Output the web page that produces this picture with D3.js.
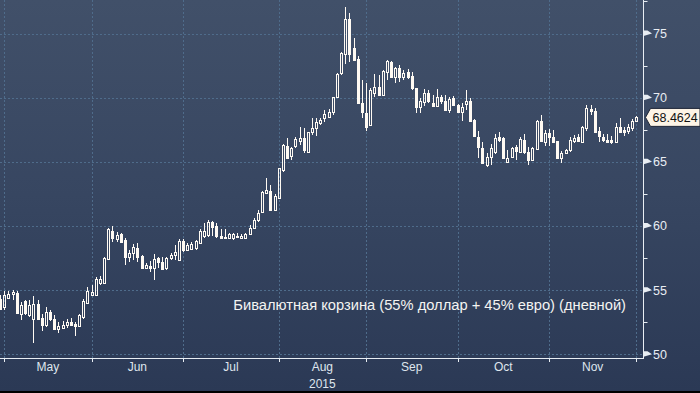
<!DOCTYPE html>
<html>
<head>
<meta charset="utf-8">
<script src="https://cdn.jsdelivr.net/npm/d3@7"></script>
<style>
  html, body { margin: 0; padding: 0; background: #000; }
  svg { display: block; }
</style>
</head>
<body>
<svg></svg>
<script>
(() => {
    const width = 700;
    const height = 393;

    // daily candles, 30 Apr 2015 .. 1 Dec 2015 (weekdays)
    const open = [
        54.33, 53.68, 54.41, 54.69, 54.80, 53.16, 54.15, 53.08, 52.77, 53.89,
        52.85, 52.31, 53.29, 52.77, 51.99, 52.07, 52.25, 52.51, 52.38, 52.20,
        52.90, 54.02, 54.59, 54.64, 55.55, 55.53, 57.40, 59.61, 58.99, 59.35,
        58.91, 57.61, 57.87, 58.31, 57.69, 56.75, 56.91, 56.75, 57.53, 57.17,
        56.70, 57.48, 57.74, 57.35, 58.83, 58.13, 58.21, 58.26, 58.65, 59.25,
        59.30, 60.34, 60.03, 59.25, 59.04, 59.04, 59.09, 59.25, 59.09, 59.09,
        59.35, 59.82, 60.47, 61.07, 62.55, 62.73, 61.25, 62.16, 64.36, 66.26,
        65.48, 66.26, 66.63, 66.89, 65.79, 67.30, 67.66, 68.00, 68.44, 68.52,
        68.91, 70.03, 71.95, 73.41, 76.11, 73.85, 72.99, 69.56, 68.78, 67.87,
        70.39, 70.81, 70.21, 72.03, 72.81, 71.64, 72.29, 71.59, 72.03, 71.69,
        70.73, 69.25, 69.69, 70.34, 69.61, 69.35, 70.08, 69.77, 69.04, 69.95,
        69.43, 68.91, 69.51, 69.74, 68.26, 66.96, 66.10, 64.75, 65.40, 65.79,
        66.96, 66.83, 64.96, 65.40, 66.18, 65.74, 66.70, 65.74, 65.14, 66.00,
        68.19, 66.57, 67.22, 66.96, 66.63, 65.33, 65.66, 65.92, 66.63, 66.96,
        66.52, 67.67, 69.12, 68.96, 67.41, 66.96, 66.70, 66.70, 66.57, 67.74,
        67.48, 67.41, 67.61, 68.19
    ];
    const high = [
        54.59, 54.90, 54.90, 54.98, 54.90, 54.07, 54.20, 54.20, 54.51, 54.20,
        53.16, 53.68, 53.47, 53.08, 52.51, 52.57, 52.77, 52.83, 52.51, 53.16,
        54.33, 55.24, 55.37, 56.02, 56.10, 57.61, 59.82, 60.03, 59.56, 59.43,
        59.04, 58.13, 58.57, 58.65, 57.72, 57.09, 57.27, 57.79, 57.61, 57.61,
        57.61, 57.87, 58.52, 58.99, 58.99, 58.65, 58.78, 58.91, 59.77, 60.21,
        60.47, 60.39, 60.21, 59.77, 59.77, 59.48, 59.43, 59.43, 59.35, 59.43,
        60.08, 60.65, 61.25, 62.73, 63.72, 63.20, 62.47, 64.55, 66.37, 66.89,
        66.18, 66.96, 67.74, 67.61, 67.35, 68.44, 68.39, 68.44, 69.04, 69.12,
        70.08, 71.95, 73.59, 77.10, 76.58, 74.63, 73.25, 71.38, 71.12, 70.73,
        71.85, 71.77, 72.16, 72.94, 72.85, 72.42, 72.55, 72.16, 72.21, 72.03,
        70.76, 69.95, 70.65, 70.60, 70.21, 70.65, 70.21, 70.21, 70.03, 70.13,
        69.51, 69.56, 70.60, 69.95, 68.30, 67.41, 66.52, 65.66, 66.37, 67.15,
        67.35, 66.96, 65.92, 66.18, 66.31, 66.96, 67.15, 66.18, 66.18, 68.26,
        68.65, 67.48, 67.56, 67.48, 66.66, 65.85, 66.00, 66.96, 67.09, 67.15,
        67.82, 69.43, 69.43, 69.17, 67.74, 67.15, 67.15, 67.04, 68.00, 68.39,
        67.74, 67.93, 68.34, 68.60
    ];
    const low = [
        53.42, 53.42, 54.28, 54.20, 53.11, 52.64, 53.03, 52.90, 50.90, 52.64,
        51.81, 52.12, 52.59, 51.95, 51.68, 51.99, 52.05, 52.18, 51.42, 52.12,
        52.77, 53.94, 54.51, 54.59, 55.42, 55.48, 57.35, 58.78, 58.73, 58.65,
        56.96, 57.22, 57.35, 57.22, 56.65, 56.65, 56.44, 55.79, 56.70, 56.62,
        56.57, 57.35, 57.35, 57.27, 58.00, 58.05, 58.13, 58.13, 58.57, 59.09,
        59.17, 59.25, 59.09, 58.99, 58.99, 58.99, 58.91, 59.04, 58.99, 59.00,
        59.30, 59.77, 60.34, 60.99, 62.47, 61.22, 61.17, 62.10, 64.18, 65.22,
        65.14, 66.05, 66.31, 65.66, 65.72, 67.09, 67.04, 67.87, 68.08, 68.39,
        68.65, 69.95, 71.77, 72.63, 72.81, 72.89, 69.51, 68.39, 67.41, 67.79,
        70.08, 70.13, 70.13, 71.38, 71.59, 71.12, 71.25, 71.38, 71.43, 70.60,
        68.78, 68.83, 69.35, 69.56, 69.32, 69.25, 69.51, 68.99, 68.83, 69.35,
        68.83, 68.21, 69.04, 68.13, 66.96, 65.33, 64.81, 64.62, 64.75, 65.59,
        66.57, 65.22, 64.88, 65.33, 65.14, 65.66, 65.59, 64.75, 65.07, 65.92,
        66.57, 66.26, 66.26, 66.44, 65.22, 64.88, 65.59, 65.74, 66.44, 66.57,
        66.44, 67.41, 68.65, 67.30, 66.57, 66.52, 66.44, 66.37, 66.52, 67.30,
        67.04, 67.15, 67.41, 68.13
    ];
    const close = [
        53.55, 54.59, 54.72, 54.85, 53.21, 53.86, 53.24, 53.86, 53.89, 52.72,
        52.25, 53.29, 52.72, 51.99, 52.20, 52.31, 52.51, 52.28, 52.18, 53.03,
        54.12, 54.90, 54.85, 55.89, 55.84, 57.48, 59.74, 59.04, 59.30, 58.73,
        57.61, 57.87, 58.39, 57.61, 56.70, 56.96, 56.75, 57.43, 57.17, 56.65,
        57.48, 57.74, 58.00, 58.83, 58.13, 58.52, 58.57, 58.83, 59.61, 59.61,
        60.34, 59.95, 59.25, 59.04, 59.17, 59.35, 59.35, 59.17, 59.25, 59.38,
        59.87, 60.47, 61.04, 62.62, 62.81, 61.25, 62.36, 64.49, 66.31, 65.27,
        66.05, 66.78, 66.89, 65.92, 67.30, 67.61, 68.08, 68.26, 68.70, 68.91,
        70.03, 71.85, 73.51, 76.11, 73.41, 72.94, 69.56, 68.91, 67.74, 70.60,
        70.81, 70.21, 72.08, 72.86, 71.64, 72.29, 71.59, 71.90, 71.59, 70.73,
        69.30, 69.77, 70.39, 69.77, 69.35, 70.03, 69.77, 69.04, 69.87, 69.43,
        68.91, 69.25, 69.77, 68.19, 67.04, 66.18, 64.88, 65.40, 66.10, 66.89,
        66.70, 65.27, 65.27, 66.10, 65.85, 66.78, 65.74, 65.14, 66.05, 68.19,
        66.63, 67.22, 66.96, 66.57, 65.27, 65.66, 65.92, 66.70, 66.89, 66.63,
        67.74, 69.23, 68.96, 67.35, 67.04, 66.70, 66.57, 66.52, 67.74, 67.35,
        67.35, 67.74, 68.19, 68.4624
    ];

    const yTicks = [50, 55, 60, 65, 70, 75];
    const yMinorTicks = [52.5, 57.5, 62.5, 67.5, 72.5, 77.5];
    const monthNames = ["May", "Jun", "Jul", "Aug", "Sep", "Oct", "Nov"];
    const yearLabel = "2015";
    const title = "Бивалютная корзина (55% доллар + 45% евро) (дневной)";
    const lastValue = "68.4624";

    // weekday calendar for the candles
    const dates = d3.timeDay.range(new Date(2015, 3, 30), new Date(2015, 11, 2))
        .filter(d => d.getDay() !== 0 && d.getDay() !== 6);
    const data = dates.map((d, i) => ({
        date: d, o: open[i], h: high[i], l: low[i], c: close[i]
    }));

    const svg = d3.select("svg")
        .attr("width", width)
        .attr("height", height);

    const defs = svg.append("defs");
    const grad = defs.append("linearGradient")
        .attr("id", "bg")
        .attr("x1", 0).attr("y1", 0).attr("x2", 0).attr("y2", 1);
    grad.append("stop").attr("offset", "0%").attr("stop-color", "#415069");
    grad.append("stop").attr("offset", "50%").attr("stop-color", "#374661");
    grad.append("stop").attr("offset", "100%").attr("stop-color", "#2b3955");

    svg.append("rect")
        .attr("width", width).attr("height", 391)
        .attr("fill", "url(#bg)");

    const axisX = 643.5;
    const axisY = 358.5;
    const font = "Liberation Sans, Arial, sans-serif";

    const x = d3.scaleLinear()
        .domain([0, data.length - 1])
        .range([0.14, 636.3]);

    const y = d3.scaleLinear()
        .domain([50, 75])
        .range([354.3, 33.5]);

    // first candle of each month
    const monthStarts = [];
    data.forEach((d, i) => {
        if (i > 0 && d.date.getMonth() !== data[i - 1].date.getMonth()) monthStarts.push(i);
    });

    const grid = svg.append("g")
        .attr("stroke", "#4f6c8b")
        .attr("stroke-dasharray", "2,2")
        .attr("stroke-width", 1);

    grid.selectAll(".hgrid")
        .data(yTicks)
        .enter()
        .append("line")
        .attr("x1", 0).attr("x2", axisX)
        .attr("y1", d => Math.round(y(d)) + 0.5)
        .attr("y2", d => Math.round(y(d)) + 0.5);

    grid.selectAll(".vgrid")
        .data(monthStarts)
        .enter()
        .append("line")
        .attr("y1", 0).attr("y2", axisY)
        .attr("x1", d => Math.round(x(d)) + 0.5)
        .attr("x2", d => Math.round(x(d)) + 0.5);

    // candles
    const candleColor = "#fffaf3";
    const candles = svg.append("g");
    data.forEach((d, i) => {
        const cx = Math.round(x(i));
        const up = d.c >= d.o;
        const top = Math.round(y(Math.max(d.o, d.c)));
        const bot = Math.round(y(Math.min(d.o, d.c)));
        const hy = Math.round(y(d.h));
        const ly = Math.round(y(d.l));
        if (hy < top) {
            candles.append("line")
                .attr("x1", cx + 0.5).attr("x2", cx + 0.5)
                .attr("y1", hy).attr("y2", top)
                .attr("stroke", candleColor);
        }
        if (ly > bot) {
            candles.append("line")
                .attr("x1", cx + 0.5).attr("x2", cx + 0.5)
                .attr("y1", bot).attr("y2", ly)
                .attr("stroke", candleColor);
        }
        if (up) {
            candles.append("rect")
                .attr("x", cx - 0.5).attr("width", 2)
                .attr("y", top + 0.5).attr("height", Math.max(bot - top, 1))
                .attr("fill", "none")
                .attr("stroke", candleColor);
        } else {
            candles.append("rect")
                .attr("x", cx - 1).attr("width", 3)
                .attr("y", top).attr("height", Math.max(bot - top + 1, 2))
                .attr("fill", candleColor);
        }
    });

    // axes
    const axisColor = "#e8edf3";
    svg.append("line")
        .attr("x1", 0).attr("x2", axisX + 0.5)
        .attr("y1", axisY).attr("y2", axisY)
        .attr("stroke", axisColor);
    svg.append("line")
        .attr("x1", axisX).attr("x2", axisX)
        .attr("y1", 0).attr("y2", axisY)
        .attr("stroke", axisColor);

    const bounds = monthStarts.concat([data.length - 1]);

    svg.append("g").selectAll("line")
        .data(bounds)
        .enter()
        .append("line")
        .attr("x1", d => Math.round(x(d)) + 0.5)
        .attr("x2", d => Math.round(x(d)) + 0.5)
        .attr("y1", axisY).attr("y2", axisY + 3.5)
        .attr("stroke", axisColor);

    svg.append("g").selectAll("text")
        .data(monthNames)
        .enter()
        .append("text")
        .attr("x", (d, i) => (x(bounds[i]) + x(bounds[i + 1])) / 2)
        .attr("y", 371)
        .attr("text-anchor", "middle")
        .attr("font-family", font)
        .attr("font-size", 12)
        .attr("fill", "#dfe6ee")
        .text(d => d);

    svg.append("text")
        .attr("x", (x(bounds[3]) + x(bounds[4])) / 2)
        .attr("y", 388)
        .attr("text-anchor", "middle")
        .attr("font-family", font)
        .attr("font-size", 12)
        .attr("fill", "#dfe6ee")
        .text(yearLabel);

    svg.append("g").selectAll("line")
        .data(yMinorTicks)
        .enter()
        .append("line")
        .attr("x1", axisX).attr("x2", axisX + 4)
        .attr("y1", d => Math.round(y(d)) + 0.5)
        .attr("y2", d => Math.round(y(d)) + 0.5)
        .attr("stroke", axisColor);

    const yLab = svg.append("g").selectAll("g")
        .data(yTicks)
        .enter()
        .append("g")
        .attr("transform", d => `translate(0,${y(d)})`);
    yLab.append("path")
        .attr("d", `M${axisX},-3 L${axisX + 4},-3 L${axisX + 8.5},0 L${axisX},2.5 Z`)
        .attr("fill", axisColor);
    yLab.append("text")
        .attr("x", 653)
        .attr("y", 4.5)
        .attr("font-family", font)
        .attr("font-size", 12.5)
        .attr("fill", "#e8edf3")
        .text(d => d);

    // last price tag
    const ty = y(close[close.length - 1]);
    svg.append("path")
        .attr("d", `M645.5,${ty} L650.5,${ty - 9} L700,${ty - 9} L700,${ty + 9} L650.5,${ty + 9} Z`)
        .attr("fill", "#fdf4e6")
        .attr("stroke", "#1c2436")
        .attr("stroke-width", 1);
    svg.append("text")
        .attr("x", 652.5)
        .attr("y", ty + 4.5)
        .attr("font-family", font)
        .attr("font-size", 12.5)
        .attr("fill", "#111")
        .text(lastValue);

    // caption
    svg.append("text")
        .attr("x", 626)
        .attr("y", 310)
        .attr("text-anchor", "end")
        .attr("font-family", font)
        .attr("font-size", 14.7)
        .attr("fill", "#f4f4f2")
        .text(title);
})();
</script>
</body>
</html>
